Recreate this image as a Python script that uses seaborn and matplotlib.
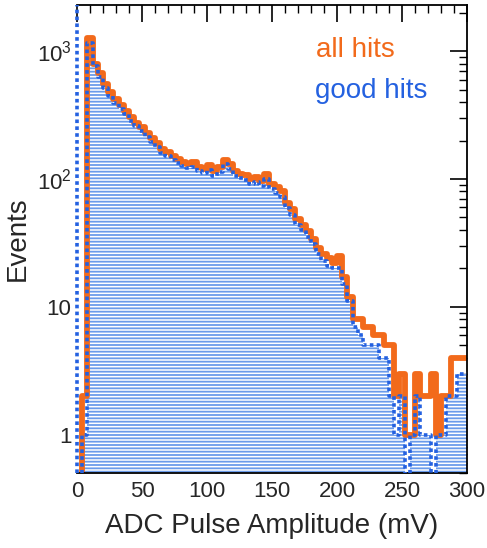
import numpy as np
import pandas as pd
import matplotlib
matplotlib.use("Agg")
import matplotlib.pyplot as plt
import matplotlib.ticker as mticker
import seaborn as sns

# ---- data (4 mV bins, 0-300 mV) ----
bin_edges = list(range(0, 304, 4))
all_hits = [0, 2, 1280, 800, 670, 550, 480, 420, 380, 340,
            305, 275, 255, 230, 210, 190, 172, 162, 150, 143,
            136, 131, 136, 124, 120, 128, 115, 124, 142, 130,
            115, 110, 107, 100, 104, 96, 110, 92, 86, 80,
            65, 58, 49, 44, 39, 34, 29, 26, 24, 22,
            25, 17, 12, 8, 8, 7, 7, 6, 6, 5,
            5, 2, 3, 1, 1, 3, 2, 2, 3, 1,
            2, 2, 4, 4, 4]
good_hits = [0, 1, 1150, 760, 630, 520, 450, 395, 355, 320,
             285, 258, 238, 215, 196, 178, 160, 150, 140, 133,
             126, 122, 125, 115, 112, 118, 106, 114, 130, 120,
             106, 101, 98, 92, 95, 88, 100, 84, 78, 72,
             59, 52, 44, 40, 35, 31, 26, 23, 21, 20,
             20, 15, 11, 7, 6, 5, 5, 5, 4, 4,
             2, 1, 2, 0, 1, 2, 1, 1, 0, 1,
             1, 2, 2, 3, 3]
labels = ["all hits", "good hits"]
xlabel = "ADC Pulse Amplitude (mV)"
ylabel = "Events"

orange = "#f26a1b"
blue = "#2461e0"
hatch_blue = "#6a9bea"

sns.set_theme(style="white")
plt.rcParams["font.family"] = ["Liberation Sans", "DejaVu Sans"]
plt.rcParams["mathtext.default"] = "regular"
plt.rcParams["hatch.linewidth"] = 1.3

edges = np.asarray(bin_edges, dtype=float)
centers = (edges[:-1] + edges[1:]) / 2
df = pd.DataFrame({"amp": centers,
                   "all": np.asarray(all_hits, dtype=float),
                   "good": np.asarray(good_hits, dtype=float)})

fig = plt.figure(figsize=(4.87, 5.48), dpi=100)
ax = fig.add_axes([77 / 487, 1 - 473 / 548, 390 / 487, 468 / 548])
ax.set_yscale("log")

good_arr = df["good"].to_numpy()
# hatched fill of good hits
ax.stairs(np.where(good_arr > 0, good_arr, 0.05), edges, baseline=0.05,
          fill=True, hatch="-----", facecolor="white", edgecolor=hatch_blue,
          linewidth=0, zorder=1)

# all hits outline (thick orange)
sns.histplot(data=df, x="amp", weights="all", bins=bin_edges, element="step",
             fill=False, color=orange, linewidth=4.2, ax=ax, zorder=2)
# good hits outline (blue dotted)
sns.histplot(data=df, x="amp", weights="good", bins=bin_edges, element="step",
             fill=False, color=blue, linewidth=2.6, linestyle=(0, (1.0, 0.9)),
             ax=ax, zorder=3)

ax.set_xlim(0, 300)
ax.set_ylim(0.5, 2300)

ax.xaxis.set_major_locator(mticker.MultipleLocator(50))
ax.xaxis.set_minor_locator(mticker.MultipleLocator(10))
ax.yaxis.set_major_locator(mticker.FixedLocator([1, 10, 100, 1000]))
ax.yaxis.set_minor_locator(mticker.LogLocator(base=10, subs=np.arange(2, 10)))
ax.yaxis.set_minor_formatter(mticker.NullFormatter())

def yfmt(v, pos):
    if v == 1:
        return "1"
    if v == 10:
        return "10"
    return r"$10^{%d}$" % int(round(np.log10(v)))

ax.yaxis.set_major_formatter(mticker.FuncFormatter(yfmt))

ax.tick_params(which="both", direction="in", top=True, right=True,
               color="black", labelsize=16)
ax.tick_params(which="major", length=12, width=1.2)
ax.tick_params(which="minor", length=6, width=1.0)
ax.tick_params(axis="x", pad=6)
ax.tick_params(axis="y", pad=4)

for side in ["top", "right", "bottom"]:
    ax.spines[side].set_color("black")
    ax.spines[side].set_linewidth(1.3)
# left frame edge drawn as a blue dotted line (as in the reference)
ax.spines["left"].set_visible(False)
ax.axvline(ax.get_xlim()[0], color=blue, linewidth=2.6,
           linestyle=(0, (1.0, 0.9)), clip_on=False, zorder=4)

ax.set_xlabel(xlabel, fontsize=20, labelpad=8)
ax.set_ylabel(ylabel, fontsize=20, labelpad=4)

ax.text(0.613, 0.889, labels[0], transform=ax.transAxes, color=orange,
        fontsize=20, ha="left", va="baseline")
ax.text(0.611, 0.801, labels[1], transform=ax.transAxes, color=blue,
        fontsize=20, ha="left", va="baseline")

fig.savefig("out.png", dpi=100)
